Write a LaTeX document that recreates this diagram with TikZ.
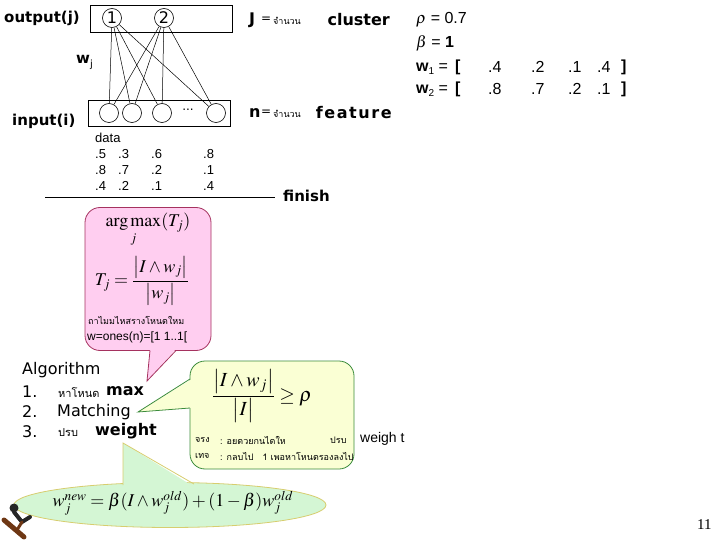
\documentclass[tikz,border=0pt]{standalone}
\usepackage{amsmath}
\usepackage{mathptmx}
\usepackage[no-math]{fontspec}
\setmainfont{DejaVu Sans}
\newfontfamily\thaifont[Script=Thai]{Loma}
\newfontfamily\arialfont{Liberation Sans}
\newfontfamily\timesfont{Liberation Serif}
\usetikzlibrary{shapes.geometric}
\newcommand\myfs[1]{\fontsize{#1}{#1}\selectfont}
\definecolor{pinkfill}{RGB}{255,206,240}
\definecolor{pinkline}{RGB}{165,50,95}
\definecolor{yelfill}{RGB}{250,255,212}
\definecolor{yelline}{RGB}{60,140,60}
\definecolor{grnfill}{RGB}{212,246,212}
\definecolor{grnline}{RGB}{215,205,110}
\definecolor{skibrown}{RGB}{110,55,20}
\tikzset{
  lbl/.style={inner sep=0pt, anchor=west},
  neuron/.style={circle, draw, line width=0.6pt, minimum size=19pt, inner sep=0pt},
  layerbox/.style={draw, line width=0.7pt, inner sep=0pt},
  link/.style={line width=0.5pt},
  callout/.style={draw, rounded corners=15pt, line width=0.8pt, inner sep=0pt},
}
\begin{document}
\begin{tikzpicture}[x=1pt,y=-1pt]
\useasboundingbox (0,0) rectangle (720,540);
% layers
\node[layerbox, minimum width=142pt, minimum height=27pt] (outbox) at (161,18.5) {};
\node[layerbox, minimum width=142pt, minimum height=26pt] (inbox) at (159,113) {};
\node[neuron, font=\myfs{16}] (o1) at (112,18) {1};
\node[neuron, font=\myfs{16}] (o2) at (164,18) {2};
\node[neuron] (i1) at (109,113) {};
\node[neuron] (i2) at (132,113) {};
\node[neuron] (i3) at (162,113) {};
\node[neuron] (i4) at (216,113) {};
\node[font=\myfs{12}] (dots) at (188,110) {...};
\foreach \o in {o1,o2}
  \foreach \i in {i1,i2,i3,i4}
    \draw[link] (\o) -- (\i);
\node[lbl, font=\myfs{15}\bfseries] (outlbl) at (4,18) {output(j)};
\node[lbl, font=\myfs{15}\bfseries] (inlbl) at (12,121) {input(i)};
\node[lbl, font=\myfs{15}\bfseries] (wj) at (76,62) {w\raisebox{-4pt}{\mdseries\myfs{10}j}};
% J and n
\node[lbl, font=\myfs{16}\bfseries] (J) at (249,20) {J};
\node[lbl, font=\myfs{12}] (Jeq) at (261,20) {=};
\node[lbl, font=\thaifont\myfs{9}] (Jth) at (273,21) {จำนวน};
\node[lbl, font=\myfs{16}\bfseries, anchor=east] (clus) at (390,20) {cluster};
\node[lbl, font=\myfs{16}\bfseries] (n) at (249,113) {n};
\node[lbl, font=\myfs{12}] (neq) at (261,113) {=};
\node[lbl, font=\thaifont\myfs{9}] (nth) at (273,114) {จำนวน};
\node[lbl, font=\myfs{16}\bfseries\addfontfeature{LetterSpace=10}, anchor=east] (feat) at (392,113) {feature};
% parameters
\node[lbl, font=\arialfont\myfs{16}] (rho) at (416,20) {$\rho$ = 0.7};
\node[lbl, font=\arialfont\myfs{16}] (beta) at (416,43) {$\beta$ = \textbf{1}};
\node[lbl, font=\arialfont\myfs{16}] (w1) at (416,67) {\textbf{w}\raisebox{-3pt}{\myfs{10}1} = \textbf{\,[}};
\node[lbl, font=\arialfont\myfs{16}] (w2) at (416,89) {\textbf{w}\raisebox{-3pt}{\myfs{10}2} = \textbf{\,[}};
\foreach \v/\x in {.4/488,.2/531,.1/568,.4/597}
  \node[lbl, font=\arialfont\myfs{16}] at (\x,67) {\v};
\foreach \v/\x in {.8/488,.7/531,.2/568,.1/597}
  \node[lbl, font=\arialfont\myfs{16}] at (\x,89) {\v};
\node[lbl, font=\arialfont\myfs{16}\bfseries] (b1) at (621,67) {]};
\node[lbl, font=\arialfont\myfs{16}\bfseries] (b2) at (621,89) {]};
% data
\node[lbl, font=\arialfont\myfs{13}] (data) at (95,138) {data};
\foreach \r/\y in {{.5,.3,.6,.8}/154,{.8,.7,.2,.1}/170,{.4,.2,.1,.4}/186}{
  \foreach \v [count=\k] in \r {
    \pgfmathsetmacro\xx{{95,118,151,203}[\k-1]}
    \node[lbl, font=\arialfont\myfs{13}] at (\xx,\y) {\v};
  }
}
\coordinate (lineL) at (45,197);
\coordinate (lineR) at (275,197);
\node[lbl, font=\myfs{15}\bfseries] (finish) at (283,196) {finish};
\draw[line width=0.7pt] (lineL) -- (lineR);
% pink callout
\node[callout, fill=pinkfill, draw=pinkline, minimum width=126pt, minimum height=143pt] (pink) at (148,279) {};
\fill[pinkfill] (150,349) -- (147,381) -- (176,349) -- cycle;
\draw[pinkline, line width=0.8pt] (150,350.5) -- (147,381) -- (176,350.5);
\node[font=\myfs{18}, inner sep=0pt] (argmax) at (148,230) {$\displaystyle\operatorname*{arg\,max}_{j}(T_j)$};
\node[font=\myfs{18}, inner sep=0pt] (tj) at (142,281) {$T_j=\dfrac{\bigl|I\wedge w_j\bigr|}{\bigl|w_j\bigr|}$};
\node[lbl, font=\thaifont\myfs{9}] (pth) at (88,320) {ถาไมมไหสรางโหนดใหม};
\node[lbl, font=\arialfont\myfs{12}] (ones) at (87,337) {w=ones(n)=[1 1..1[};
% algorithm
\node[lbl, font=\myfs{16}] (alg) at (22,370) {Algorithm};
\node[lbl, font=\myfs{16}] (a1) at (22,392) {1.};
\node[lbl, font=\thaifont\myfs{11}] (a1t) at (58,393) {หาโหนด};
\node[lbl, font=\myfs{16}\bfseries] (a1m) at (106,391) {max};
\node[lbl, font=\myfs{16}] (a2) at (22,412) {2.};
\node[lbl, font=\myfs{16}] (a2t) at (57,412) {Matching};
\node[lbl, font=\myfs{16}] (a3) at (22,432) {3.};
\node[lbl, font=\thaifont\myfs{11}] (a3t) at (58,433) {ปรบ};
\node[lbl, font=\myfs{16}\bfseries] (a3w) at (95,431) {weight};
% yellow callout
\node[callout, fill=yelfill, draw=yelline, minimum width=164pt, minimum height=108pt] (yel) at (272,415) {};
\fill[yelfill] (192,379) -- (138,412) -- (192,408) -- cycle;
\draw[yelline, line width=0.8pt] (190,379) -- (138,412) -- (190,408);
\node[font=\myfs{20}, inner sep=0pt] (match) at (262,396) {$\dfrac{\bigl|I\wedge w_j\bigr|}{\bigl|I\bigr|}\geq\rho$};
\node[lbl, font=\thaifont\myfs{9}] (y1a) at (195,440) {จรง};
\node[lbl, font=\thaifont\myfs{9}] (y1b) at (220,440) {: อยดวยกนไดให};
\node[lbl, font=\thaifont\myfs{9}] (y1c) at (330,440) {ปรบ};
\node[lbl, font=\arialfont\myfs{14}] (y1d) at (360,439) {weigh t};
\node[lbl, font=\thaifont\myfs{9}] (y2a) at (195,456) {เทจ};
\node[lbl, font=\thaifont\myfs{9}] (y2b) at (220,456) {: กลบไป\quad 1 เพอหาโหนดรองลงไป};
% green ellipse callout
\node[ellipse, draw=grnline, fill=grnfill, line width=0.8pt, minimum width=312pt, minimum height=45pt, inner sep=0pt] (upd) at (170,505) {};
\fill[grnfill] (123,443) -- (123,488) -- (196,488) -- cycle;
\draw[grnline, line width=0.8pt] (123,485) -- (123,443) -- (194,484);
\node[font=\myfs{18}, inner sep=0pt] (updf) at (173,503) {$w_j^{new}=\beta(I\wedge w_j^{old})+(1-\beta)w_j^{old}$};
% page number
\node[lbl, font=\timesfont\myfs{15}] (pg) at (697,525) {11};
% skier clip art
\draw[skibrown, line width=5pt, line cap=round] (4,520) -- (24,537);
\fill[black!85] (14,508) circle (4.5);
\draw[black!85, line width=4pt, line cap=round] (14,512) -- (22,522) -- (30,517);
\draw[skibrown, line width=3pt, line cap=round] (22,522) -- (17,530);
\end{tikzpicture}
\end{document}
